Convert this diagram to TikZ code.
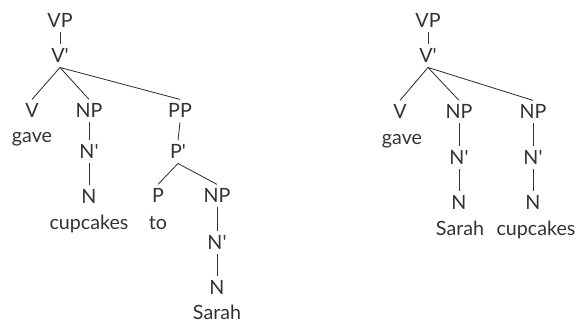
\documentclass[tikz,border=0pt]{standalone}
\usepackage{fontspec}
\setmainfont{Lato}
\usepackage{tikz}
\definecolor{ink}{rgb}{0.2,0.2,0.2}
\tikzset{
  cat/.style={inner sep=3pt, anchor=base, text=ink},
  word/.style={inner sep=1pt, anchor=base, text=ink},
  branch/.style={draw=ink, line width=0.6pt}
}

\begin{document}
\begin{tikzpicture}[font=\fontsize{14}{16}\selectfont]
\useasboundingbox (0,0) rectangle (14.45,8.175);
% left tree: PP complement
\node[cat] (vpl) at (1.5,7.475) {VP};
\node[cat] (vbl) at (1.5,6.6) {V\textquotesingle};
\node[cat] (vl) at (0.8,5.225) {V};
\node[word] (gavel) at (0.8,4.6) {gave};
\node[cat] (npa) at (2.225,5.225) {NP};
\node[cat] (nba) at (2.225,4.2) {N\textquotesingle};
\node[cat] (na) at (2.225,3.075) {N};
\node[word] (cupl) at (2.225,2.425) {cupcakes};
\node[cat] (pp) at (4.5,5.225) {PP};
\node[cat] (pb) at (4.45,4.2) {P\textquotesingle};
\node[cat] (p) at (3.95,3.1) {P};
\node[word] (to) at (3.95,2.425) {to};
\node[cat] (npb) at (5.425,3.1) {NP};
\node[cat] (nbb) at (5.425,1.925) {N\textquotesingle};
\node[cat] (nb) at (5.425,0.8) {N};
\node[word] (sarahl) at (5.425,0.175) {Sarah};
\draw[branch] (vpl.south) -- (vbl.north);
\draw[branch] (vbl.south) -- (vl.north);
\draw[branch] (vbl.south) -- (npa.north);
\draw[branch] (vbl.south) -- (pp.north);
\draw[branch] (npa.south) -- (nba.north);
\draw[branch] (nba.south) -- (na.north);
\draw[branch] (pp.south) -- (pb.north);
\draw[branch] (pb.south) -- (p.north);
\draw[branch] (pb.south) -- (npb.north);
\draw[branch] (npb.south) -- (nbb.north);
\draw[branch] (nbb.south) -- (nb.north);
% right tree: double object
\node[cat] (vpr) at (10.7,7.475) {VP};
\node[cat] (vbr) at (10.7,6.6) {V\textquotesingle};
\node[cat] (vr) at (10.0,5.2) {V};
\node[word] (gaver) at (10.05,4.55) {gave};
\node[cat] (npc) at (11.475,5.2) {NP};
\node[cat] (nbc) at (11.475,4.05) {N\textquotesingle};
\node[cat] (nc) at (11.475,2.925) {N};
\node[word] (sarahr) at (11.5,2.275) {Sarah};
\node[cat] (npd) at (13.325,5.2) {NP};
\node[cat] (nbd) at (13.325,4.05) {N\textquotesingle};
\node[cat] (nd) at (13.325,2.925) {N};
\node[word] (cupr) at (13.4,2.275) {cupcakes};
\draw[branch] (vpr.south) -- (vbr.north);
\draw[branch] (vbr.south) -- (vr.north);
\draw[branch] (vbr.south) -- (npc.north);
\draw[branch] (vbr.south) -- (npd.north);
\draw[branch] (npc.south) -- (nbc.north);
\draw[branch] (nbc.south) -- (nc.north);
\draw[branch] (npd.south) -- (nbd.north);
\draw[branch] (nbd.south) -- (nd.north);
\end{tikzpicture}
\end{document}
